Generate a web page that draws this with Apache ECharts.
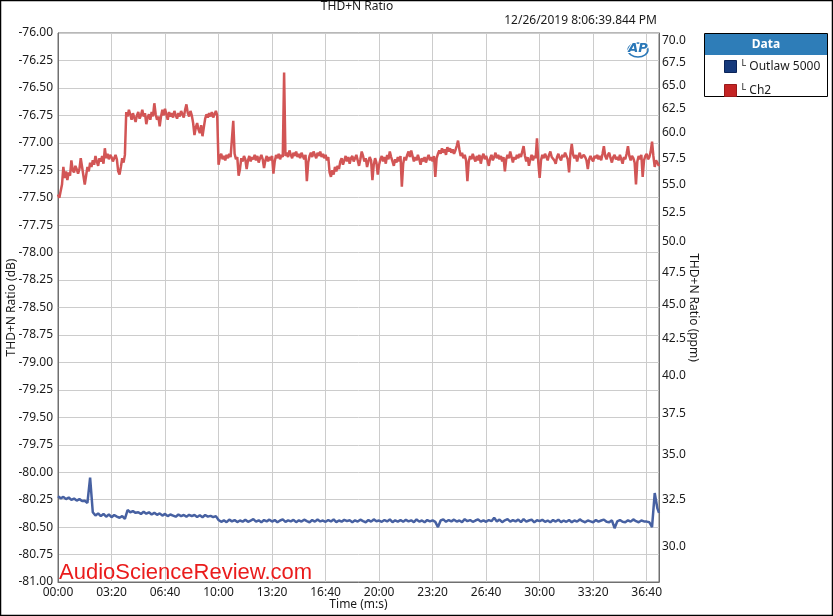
<!DOCTYPE html>
<html><head><meta charset="utf-8">
<script src="https://cdn.jsdelivr.net/npm/echarts@6/dist/echarts.min.js"></script>
<style>html,body{margin:0;padding:0;background:#fff}#c{width:833px;height:616px}</style>
</head><body><div id="c"></div><script>
const CH2_STEP = 5;       // seconds between Ch2 samples
const OUTLAW_STEP = 10;   // seconds between Outlaw 5000 samples
const END_TIME = 2246;    // seconds, right edge of the time axis
const X_INTERVAL = 200;   // seconds between time ticks
const dbRange = [-81, -76];
const ppmTicks = [70.0, 67.5, 65.0, 62.5, 60.0, 57.5, 55.0, 52.5, 50.0, 47.5, 45.0, 42.5, 40.0, 37.5, 35.0, 32.5, 30.0];
const ppmRange = [28.29, 70.94];
const seriesNames = ['Outlaw 5000', 'Ch2'];

const outlawValues = [
-80.22,-80.238,-80.225,-80.245,-80.23,-80.252,-80.24,-80.258,-80.245,-80.262,
-80.26,-80.28,-80.05,-80.365,-80.395,-80.375,-80.40,-80.38,-80.405,-80.385,
-80.41,-80.39,-80.405,-80.415,-80.40,-80.425,-80.345,-80.365,-80.355,-80.37,
-80.365,-80.38,-80.36,-80.378,-80.365,-80.385,-80.37,-80.388,-80.375,-80.395,
-80.38,-80.40,-80.385,-80.395,-80.405,-80.385,-80.40,-80.39,-80.405,-80.388,
-80.40,-80.39,-80.408,-80.392,-80.41,-80.39,-80.405,-80.398,-80.41,-80.40,
-80.435,-80.452,-80.438,-80.455,-80.432,-80.448,-80.436,-80.454,-80.44,-80.45,
-80.434,-80.452,-80.44,-80.428,-80.45,-80.438,-80.455,-80.436,-80.448,-80.432,
-80.45,-80.436,-80.456,-80.44,-80.43,-80.452,-80.438,-80.448,-80.434,-80.455,
-80.438,-80.45,-80.432,-80.446,-80.456,-80.436,-80.45,-80.43,-80.448,-80.44,
-80.452,-80.436,-80.448,-80.43,-80.455,-80.44,-80.45,-80.434,-80.446,-80.438,
-80.455,-80.438,-80.45,-80.432,-80.446,-80.456,-80.436,-80.45,-80.43,-80.446,
-80.44,-80.452,-80.436,-80.448,-80.43,-80.455,-80.438,-80.45,-80.436,-80.452,
-80.434,-80.448,-80.438,-80.455,-80.43,-80.45,-80.44,-80.456,-80.436,-80.448,
-80.438,-80.452,-80.50,-80.44,-80.43,-80.452,-80.436,-80.448,-80.432,-80.45,
-80.44,-80.455,-80.428,-80.446,-80.436,-80.452,-80.44,-80.43,-80.45,-80.438,
-80.452,-80.436,-80.446,-80.415,-80.448,-80.432,-80.455,-80.438,-80.428,-80.45,
-80.436,-80.448,-80.432,-80.455,-80.428,-80.45,-80.44,-80.432,-80.456,-80.438,
-80.446,-80.434,-80.452,-80.44,-80.456,-80.436,-80.45,-80.432,-80.455,-80.44,
-80.452,-80.436,-80.455,-80.44,-80.45,-80.43,-80.446,-80.456,-80.44,-80.448,
-80.456,-80.436,-80.45,-80.44,-80.432,-80.452,-80.456,-80.438,-80.51,-80.448,
-80.436,-80.452,-80.455,-80.438,-80.45,-80.43,-80.446,-80.456,-80.44,-80.448,
-80.45,-80.456,-80.50,-80.19,-80.33,-80.37
];

const ch2Values = [
-77.47,-77.50,-77.44,-77.38,-77.22,-77.32,-77.26,-77.34,-77.27,-77.30,-77.16,-77.25,-77.27,-77.21,-77.24,-77.28,-77.24,-77.14,-77.22,-77.30,
-77.38,-77.30,-77.22,-77.26,-77.18,-77.22,-77.16,-77.20,-77.12,-77.17,-77.21,-77.14,-77.17,-77.12,-77.19,-77.05,-77.14,-77.10,-77.15,-77.11,
-77.13,-77.17,-77.14,-77.11,-77.15,-77.26,-77.29,-77.22,-77.14,-77.18,-77.11,-76.72,-76.76,-76.70,-76.74,-76.79,-76.73,-76.77,-76.81,-76.75,
-76.72,-76.78,-76.75,-76.70,-76.76,-76.73,-76.83,-76.77,-76.74,-76.79,-76.72,-76.76,-76.64,-76.74,-76.79,-76.76,-76.85,-76.76,-76.70,-76.75,
-76.69,-76.74,-76.79,-76.72,-76.76,-76.73,-76.77,-76.71,-76.75,-76.78,-76.73,-76.76,-76.71,-76.74,-76.77,-76.70,-76.65,-76.73,-76.76,-76.71,
-76.75,-76.82,-76.93,-76.86,-76.82,-76.88,-76.91,-76.84,-76.94,-76.86,-76.78,-76.74,-76.77,-76.73,-76.76,-76.72,-76.77,-76.74,-76.71,-76.75,
-77.20,-77.13,-77.10,-77.15,-77.12,-77.16,-77.11,-77.14,-77.10,-77.13,-77.12,-76.80,-77.10,-77.15,-77.13,-77.30,-77.24,-77.14,-77.17,-77.12,
-77.15,-77.24,-77.16,-77.12,-77.17,-77.13,-77.15,-77.11,-77.16,-77.12,-77.18,-77.14,-77.11,-77.15,-77.23,-77.16,-77.12,-77.17,-77.13,-77.16,
-77.12,-77.28,-77.17,-77.11,-77.14,-77.10,-77.15,-77.11,-77.13,-76.36,-77.12,-77.09,-77.13,-77.07,-77.11,-77.14,-77.09,-77.12,-77.08,-77.13,
-77.10,-77.14,-77.09,-77.12,-77.15,-77.11,-77.35,-77.18,-77.12,-77.09,-77.13,-77.08,-77.11,-77.14,-77.09,-77.12,-77.08,-77.13,-77.10,-77.14,
-77.11,-77.16,-77.13,-77.27,-77.31,-77.25,-77.29,-77.22,-77.26,-77.21,-77.24,-77.17,-77.14,-77.20,-77.16,-77.12,-77.17,-77.13,-77.19,-77.14,
-77.12,-77.17,-77.14,-77.11,-77.16,-77.21,-77.15,-77.08,-77.12,-77.17,-77.14,-77.22,-77.17,-77.13,-77.16,-77.34,-77.20,-77.14,-77.18,-77.29,
-77.20,-77.15,-77.12,-77.17,-77.13,-77.19,-77.11,-77.15,-77.08,-77.13,-77.17,-77.21,-77.15,-77.18,-77.13,-77.17,-77.12,-77.40,-77.19,-77.13,
-77.16,-77.11,-77.08,-77.13,-77.07,-77.12,-77.17,-77.13,-77.16,-77.11,-77.15,-77.20,-77.14,-77.17,-77.13,-77.18,-77.14,-77.11,-77.16,-77.13,
-77.17,-77.12,-77.31,-77.14,-77.10,-77.07,-77.10,-77.05,-77.09,-77.06,-77.11,-77.04,-77.08,-77.05,-77.09,-77.06,-77.10,-77.07,-77.03,-76.98,
-77.06,-77.12,-77.09,-77.14,-77.11,-77.16,-77.35,-77.17,-77.12,-77.15,-77.10,-77.14,-77.17,-77.12,-77.16,-77.11,-77.19,-77.13,-77.10,-77.15,
-77.12,-77.16,-77.21,-77.14,-77.11,-77.16,-77.13,-77.09,-77.14,-77.11,-77.15,-77.12,-77.17,-77.13,-77.26,-77.15,-77.11,-77.14,-77.08,-77.13,
-77.18,-77.13,-77.15,-77.11,-77.14,-77.10,-77.13,-77.08,-77.03,-77.12,-77.17,-77.13,-77.21,-77.15,-77.11,-77.16,-77.12,-77.14,-76.96,-77.18,
-77.32,-77.16,-77.11,-77.14,-77.10,-77.13,-77.16,-77.11,-77.08,-77.13,-77.12,-77.16,-77.19,-77.13,-77.10,-77.14,-77.16,-77.11,-77.13,-77.09,
-77.12,-77.15,-77.27,-77.10,-77.01,-77.11,-77.14,-77.11,-77.17,-77.12,-77.09,-77.14,-77.15,-77.11,-77.13,-77.16,-77.24,-77.15,-77.12,-77.15,
-77.17,-77.12,-77.14,-77.11,-77.15,-77.12,-77.16,-77.10,-77.03,-77.12,-77.15,-77.11,-77.09,-77.14,-77.18,-77.13,-77.11,-77.15,-77.13,-77.16,
-77.11,-77.15,-77.19,-77.13,-77.15,-77.10,-77.03,-77.12,-77.16,-77.12,-77.14,-77.18,-77.38,-77.17,-77.12,-77.15,-77.11,-77.31,-77.16,-77.12,
-77.10,-77.15,-77.13,-77.08,-76.99,-77.12,-77.22,-77.16,-77.18,-77.21,-77.20
];

function toPairs(vals, step) { return vals.map((v, i) => [Math.min(i * step, END_TIME), v]); }
function fmtTime(t) {
  const m = Math.floor(t / 60), s = Math.round(t % 60);
  return String(m).padStart(2, '0') + ':' + String(s).padStart(2, '0');
}
const FONT = 'Noto Sans';
const TXT = '#1a1a1a';
const chart = echarts.init(document.getElementById('c'), null, {renderer: 'canvas'});
chart.setOption({
  animation: false,
  backgroundColor: '#fff',
  textStyle: {fontFamily: FONT},
  grid: {left: 58, top: 33, right: 174, bottom: 34, show: true, borderColor: '#707070', borderWidth: 1,
    backgroundColor: '#fff', containLabel: false, outerBoundsMode: 'none'},
  xAxis: {
    type: 'value', min: 0, max: END_TIME, interval: X_INTERVAL,
    name: 'Time (m:s)', nameLocation: 'middle', nameGap: 17, nameMoveOverlap: false,
    nameTextStyle: {fontFamily: FONT, fontSize: 12, color: TXT},
    axisLine: {lineStyle: {color: '#707070'}},
    axisTick: {show: false},
    axisLabel: {fontFamily: FONT, fontSize: 12, color: TXT, margin: 5, showMaxLabel: false,
      formatter: v => (v % X_INTERVAL === 0 ? fmtTime(v) : '')},
    splitLine: {show: true, lineStyle: {color: '#cccccc', width: 1}}
  },
  yAxis: [{
    type: 'value', min: dbRange[0], max: dbRange[1], interval: 0.25,
    name: 'THD+N Ratio (dB)', nameLocation: 'middle', nameGap: 40, nameMoveOverlap: false,
    nameTextStyle: {fontFamily: FONT, fontSize: 12, color: TXT},
    axisLine: {show: true, lineStyle: {color: '#707070'}},
    axisTick: {show: false},
    axisLabel: {fontFamily: FONT, fontSize: 12, color: TXT, margin: 5, formatter: v => v.toFixed(2)},
    splitLine: {show: true, lineStyle: {color: '#cccccc', width: 1}}
  }, {
    type: 'value', position: 'right',
    min: Math.log10(ppmRange[0]), max: Math.log10(ppmRange[1]),
    name: 'THD+N Ratio (ppm)', nameLocation: 'middle', nameGap: 28, nameRotate: -90, nameMoveOverlap: false,
    nameTextStyle: {fontFamily: FONT, fontSize: 12, color: TXT},
    axisLine: {show: true, lineStyle: {color: '#707070'}},
    axisTick: {show: false},
    splitLine: {show: false},
    axisLabel: {fontFamily: FONT, fontSize: 12, color: TXT, margin: 3,
      customValues: ppmTicks.map(v => Math.log10(v)),
      formatter: v => Math.pow(10, v).toFixed(1)}
  }],
  legend: {
    orient: 'vertical', left: 724, top: 59, itemWidth: 12, itemHeight: 12, itemGap: 10, padding: 0,
    icon: 'rect', z: 20, selectedMode: false,
    data: [
      {name: seriesNames[0], itemStyle: {color: '#163a7c', borderColor: '#0b2458', borderWidth: 1}},
      {name: seriesNames[1], itemStyle: {color: '#c42424', borderColor: '#9a1a1a', borderWidth: 1}}
    ],
    formatter: n => '{s|L}{n| ' + n + '}',
    textStyle: {fontFamily: FONT, fontSize: 12, color: TXT,
      rich: {s: {fontFamily: FONT, fontSize: 9, color: TXT, padding: [0, 0, 6, 0]},
             n: {fontFamily: FONT, fontSize: 12, color: TXT}}}
  },
  graphic: [
    {type: 'rect', z: 1, shape: {x: 0.5, y: 0.5, width: 832, height: 615}, style: {fill: 'none', stroke: '#000', lineWidth: 1.5}},
    {type: 'text', z: 5, x: 357, y: 7, style: {text: 'THD+N Ratio', font: '12px "Noto Sans"', fill: TXT, align: 'center', verticalAlign: 'middle'}},
    {type: 'text', z: 5, x: 657, y: 21, style: {text: '12/26/2019 8:06:39.844 PM', font: '12px "Noto Sans"', fill: TXT, align: 'right', verticalAlign: 'middle'}},
    {type: 'ellipse', z: 5, shape: {cx: 638, cy: 50, rx: 10, ry: 7}, style: {fill: 'none', stroke: '#2a78b8', lineWidth: 1.5}},
    {type: 'text', z: 6, x: 638, y: 49, style: {text: 'AP', font: 'italic bold 13px "DejaVu Sans"', fill: '#2a78b8', align: 'center', verticalAlign: 'middle', stroke: '#fff', lineWidth: 2}},
    {type: 'rect', z: 5, shape: {x: 704.5, y: 33.5, width: 123, height: 63}, style: {fill: '#fff', stroke: '#000', lineWidth: 1}},
    {type: 'rect', z: 6, shape: {x: 705, y: 34, width: 122, height: 21}, style: {fill: '#2e7db8'}},
    {type: 'text', z: 7, x: 766, y: 45, style: {text: 'Data', font: 'bold 12px "Noto Sans"', fill: '#fff', align: 'center', verticalAlign: 'middle'}},
    {type: 'text', z: 10, x: 59, y: 584, style: {text: 'AudioScienceReview.com', font: '22px "Liberation Sans"', fill: '#ea1c1c', align: 'left', verticalAlign: 'bottom'}}
  ],
  series: [
    {name: seriesNames[0], type: 'line', yAxisIndex: 0, data: toPairs(outlawValues, OUTLAW_STEP), showSymbol: false,
      lineStyle: {color: '#4761a2', width: 2.5}, itemStyle: {color: '#4761a2'}, z: 3},
    {name: seriesNames[1], type: 'line', yAxisIndex: 0, data: toPairs(ch2Values, CH2_STEP), showSymbol: false,
      lineStyle: {color: '#d25555', width: 2.5}, itemStyle: {color: '#d25555'}, z: 3}
  ]
});
</script></body></html>
